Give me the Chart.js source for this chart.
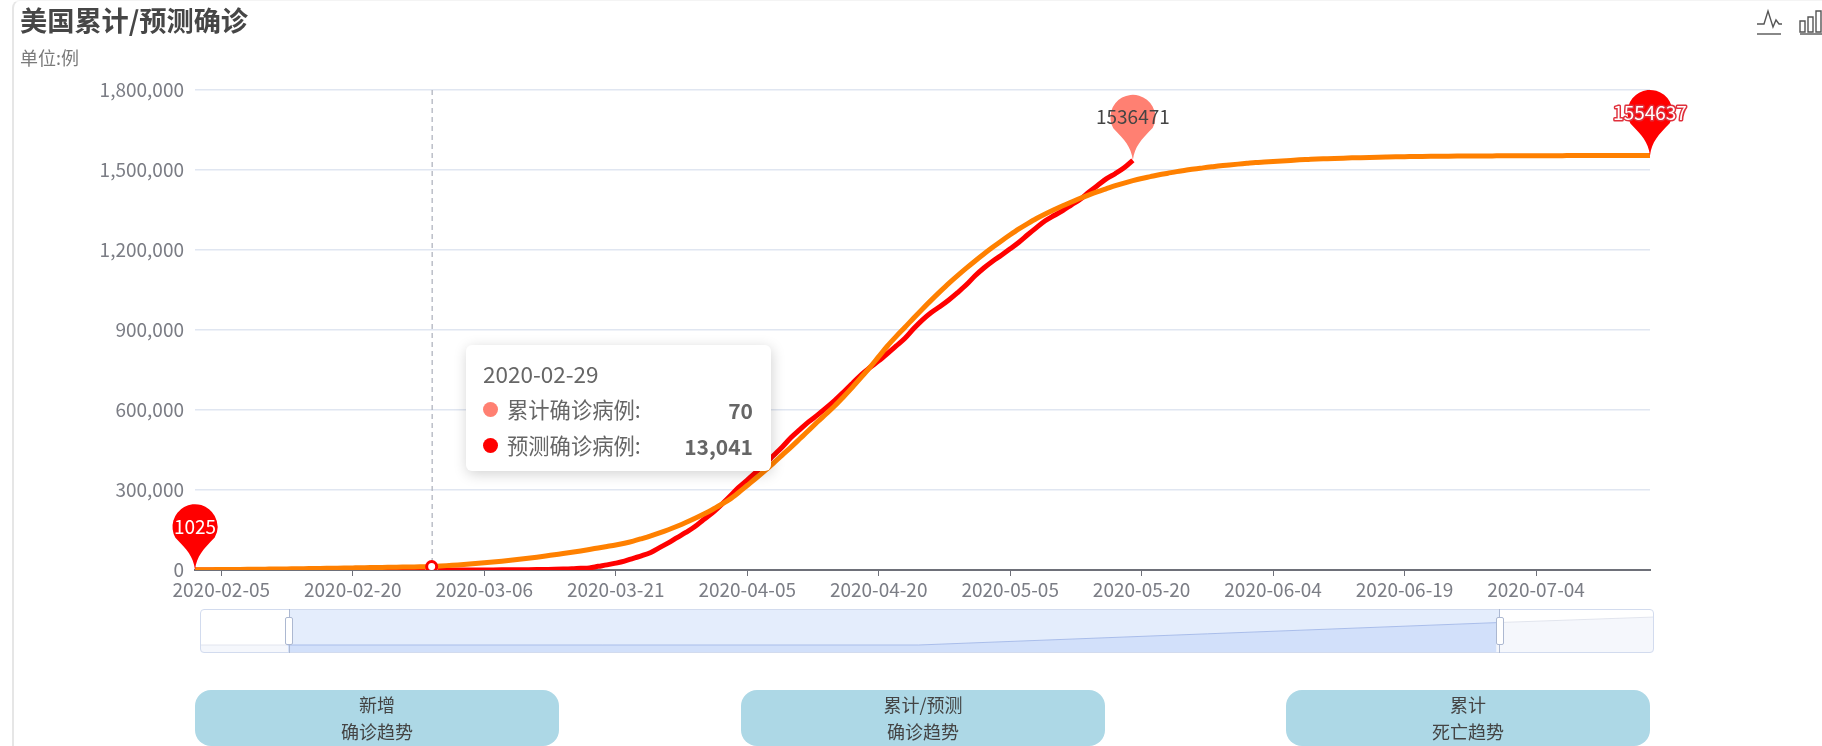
<!DOCTYPE html>
<html>
<head>
<meta charset="utf-8">
<title>美国累计/预测确诊</title>
<script src="https://cdn.jsdelivr.net/npm/chart.js@4"></script>
<style>
  html, body { margin: 0; padding: 0; background: #fff; overflow: hidden; }
  body { width: 1822px; height: 746px; position: relative; font-family: "Noto Sans CJK SC", "Noto Sans", sans-serif; }
  .abs { position: absolute; }
  #card { left: 12px; top: 0; width: 1810px; height: 760px; border-left: 2px solid #e6e6e6; border-top: 1px solid #f4f4f4; border-top-left-radius: 8px; box-sizing: border-box; }
  #main-wrap { left: 0; top: 0; width: 1822px; height: 746px; }
  #title { left: 20px; top: 0; font-size: 27.2px; line-height: 38px; font-weight: 700; color: #464646; }
  #subtitle { left: 20px; top: 44px; font-size: 18px; line-height: 26px; color: #7a7a7a; }
  #tip { left: 466px; top: 345px; width: 305px; height: 126px; background: #fff; border-radius: 6px; box-shadow: 1px 3px 14px rgba(0,0,0,.18); color: #666; font-size: 21.3px; }
  #tip div { position: absolute; white-space: nowrap; line-height: 28px; }
  #tip i { position: absolute; width: 15px; height: 15px; border-radius: 50%; }
  #tip b { position: absolute; right: 18px; line-height: 28px; font-size: 21px; }
  #slider-bg { left: 200px; top: 609px; width: 1454px; height: 44px; background: #fff; border-radius: 4px; }
  #slider-sel { left: 289px; top: 610px; width: 1211px; height: 42px; background: #e4edfc; }
  #slider-wrap { left: 200px; top: 609px; width: 1454px; height: 44px; border-radius: 4px; overflow: hidden; }
  #slider-border { left: 200px; top: 609px; width: 1454px; height: 44px; border: 1px solid #d2dbee; border-radius: 4px; box-sizing: border-box; }
  .handle-line { top: 609px; width: 1px; height: 44px; background: #acb8d1; }
  .handle { top: 617px; width: 8px; height: 28px; background: #fff; border: 1px solid #acb8d1; border-radius: 2px; box-sizing: border-box; }
  .btn { top: 690px; width: 364px; height: 56px; background: #add8e6; border-radius: 16px; text-align: center; font-size: 18px; line-height: 27px; color: #444; padding-top: 1px; box-sizing: border-box; }
</style>
</head>
<body>
<div id="card" class="abs"></div>
<div id="main-wrap" class="abs"><canvas id="chart" width="1822" height="746"></canvas></div>
<div id="title" class="abs">美国累计/预测确诊</div>
<div id="subtitle" class="abs">单位:例</div>

<svg class="abs" style="left:1755px;top:8px" width="67" height="28" fill="none" stroke="#555" stroke-width="1.4">
  <path d="M2 16 L9 16 L13 3 L18 19 L21 12 L24 16 L27 16"/><path d="M2 26 L26 26"/>
  <path d="M45 13 h5 v11 h-5 z M53 9 h5 v15 h-5 z M61 3 h5 v21 h-5 z"/><path d="M45 26 L67 26"/>
</svg>

<div id="slider-bg" class="abs"></div>
<div id="slider-sel" class="abs"></div>
<div id="slider-wrap" class="abs"><canvas id="slider" width="1454" height="44"></canvas></div>
<div id="slider-border" class="abs"></div>
<div class="abs handle-line" style="left:289px"></div>
<div class="abs handle-line" style="left:1499px"></div>
<div class="abs handle" style="left:285px"></div>
<div class="abs handle" style="left:1496px"></div>

<div class="abs btn" style="left:195px">新增<br>确诊趋势</div>
<div class="abs btn" style="left:741px">累计/预测<br>确诊趋势</div>
<div class="abs btn" style="left:1286px">累计<br>死亡趋势</div>

<div id="tip" class="abs"></div>

<script>
// Dates on the x axis
const dates = [
  '2020-02-02','2020-02-03','2020-02-04','2020-02-05','2020-02-06','2020-02-07','2020-02-08','2020-02-09','2020-02-10','2020-02-11','2020-02-12','2020-02-13','2020-02-14','2020-02-15',
  '2020-02-16','2020-02-17','2020-02-18','2020-02-19','2020-02-20','2020-02-21','2020-02-22','2020-02-23','2020-02-24','2020-02-25','2020-02-26','2020-02-27','2020-02-28','2020-02-29',
  '2020-03-01','2020-03-02','2020-03-03','2020-03-04','2020-03-05','2020-03-06','2020-03-07','2020-03-08','2020-03-09','2020-03-10','2020-03-11','2020-03-12','2020-03-13','2020-03-14','2020-03-15','2020-03-16',
  '2020-03-17','2020-03-18','2020-03-19','2020-03-20','2020-03-21','2020-03-22','2020-03-23','2020-03-24','2020-03-25','2020-03-26','2020-03-27','2020-03-28','2020-03-29','2020-03-30','2020-03-31',
  '2020-04-01','2020-04-02','2020-04-03','2020-04-04','2020-04-05','2020-04-06','2020-04-07','2020-04-08','2020-04-09','2020-04-10','2020-04-11','2020-04-12','2020-04-13','2020-04-14','2020-04-15',
  '2020-04-16','2020-04-17','2020-04-18','2020-04-19','2020-04-20','2020-04-21','2020-04-22','2020-04-23','2020-04-24','2020-04-25','2020-04-26','2020-04-27','2020-04-28','2020-04-29','2020-04-30',
  '2020-05-01','2020-05-02','2020-05-03','2020-05-04','2020-05-05','2020-05-06','2020-05-07','2020-05-08','2020-05-09','2020-05-10','2020-05-11','2020-05-12','2020-05-13','2020-05-14','2020-05-15','2020-05-16',
  '2020-05-17','2020-05-18','2020-05-19','2020-05-20','2020-05-21','2020-05-22','2020-05-23','2020-05-24','2020-05-25','2020-05-26','2020-05-27','2020-05-28','2020-05-29','2020-05-30','2020-05-31',
  '2020-06-01','2020-06-02','2020-06-03','2020-06-04','2020-06-05','2020-06-06','2020-06-07','2020-06-08','2020-06-09','2020-06-10','2020-06-11','2020-06-12','2020-06-13','2020-06-14','2020-06-15',
  '2020-06-16','2020-06-17','2020-06-18','2020-06-19','2020-06-20','2020-06-21','2020-06-22','2020-06-23','2020-06-24','2020-06-25','2020-06-26','2020-06-27','2020-06-28','2020-06-29','2020-06-30',
  '2020-07-01','2020-07-02','2020-07-03','2020-07-04','2020-07-05','2020-07-06','2020-07-07','2020-07-08','2020-07-09','2020-07-10','2020-07-11','2020-07-12','2020-07-13','2020-07-14','2020-07-15','2020-07-16','2020-07-17'
];

// 累计确诊病例, stops at 05-19
const actual = [
  8,8,11,11,11,11,11,11,12,12,13,13,13,13,13,13,13,13,13,15,15,15,51,51,57,58,60,70,
  74,98,118,149,217,262,402,518,583,959,1281,1663,2179,2727,3499,4632,6421,7783,13747,19273,25600,33276,43847,53740,65778,83836,101657,121465,140909,161831,188172,
  213372,243453,275586,308850,337072,366667,396223,429052,461437,496535,526396,555313,580619,607670,636350,667592,699706,732197,759086,784326,811865,840351,869170,905358,938154,965785,988197,1012582,1039909,1069424,
  1103461,1132539,1158040,1180375,1204351,1229331,1257023,1283929,1309550,1329260,1347881,1369376,1390406,1417774,1442824,1467820,1486757,1508308,1536471
];

// 预测确诊病例
const predicted = [
  1025,1200,1400,1620,1870,2140,2440,2770,3130,3520,3930,4370,4830,5310,5800,6300,6810,7330,7860,8400,8940,9490,10040,10580,11100,11620,12330,13041,
  15000,17000,19000,21300,24000,27000,30000,33200,36600,40200,44000,48100,52500,57200,61700,66500,71600,77000,82700,88300,94000,100500,108500,118000,128000,139000,151000,164000,178000,193000,209000,
  226000,245000,265000,290000,317000,344000,372000,401000,431000,461000,492000,523000,555000,585000,616000,650000,685000,722000,760000,800000,840000,876000,910000,945000,979000,1012000,1044000,1075000,1104000,1132000,
  1159000,1185000,1210000,1234000,1257000,1279000,1299000,1318000,1335000,1351000,1366000,1380000,1394000,1407000,1419000,1430000,1441000,1451000,1460000,1468000,1475000,1482000,1488000,1494000,1499000,1504000,1508000,1512000,1516000,1519000,1522000,
  1525000,1528000,1530000,1532000,1534000,1536000,1538000,1539500,1541000,1542200,1543400,1544500,1545500,1546400,1547200,1548000,1548700,1549300,1549900,1550400,1550800,1551200,1551500,1551800,1552100,1552300,1552500,1552700,1552900,1553100,
  1553300,1553400,1553500,1553600,1553700,1553800,1553900,1554000,1554100,1554200,1554300,1554350,1554400,1554450,1554500,1554570,1554637
];

// y axis ticks and the two sets of labels
const yTicks = [0, 300000, 600000, 900000, 1200000, 1500000, 1800000];
const hoverDate = '2020-02-29';
const sliderStops = [0, 10, 82, 148, 166];
const sliderValues = [0, 0, 0, 1243000, 1554637];

const hoverIndex = dates.indexOf(hoverDate);
const fontName = '"Noto Sans CJK SC", "Noto Sans", sans-serif';

// Custom marks that the chart has no built in option for
const hoverLine = {
  id: 'hoverLine',
  beforeDatasetsDraw(chart) {
    const { ctx, chartArea, scales } = chart;
    const x = scales.x.getPixelForValue(hoverIndex);
    ctx.save();
    ctx.strokeStyle = '#aaaeb9';
    ctx.lineWidth = 1.2;
    ctx.setLineDash([5, 4]);
    ctx.beginPath();
    ctx.moveTo(x + 0.5, chartArea.top);
    ctx.lineTo(x + 0.5, chartArea.bottom);
    ctx.stroke();
    ctx.restore();
  }
};

function drawPin(ctx, x, y, color, text, textColor, outline) {
  const r = 22.5;
  const cy = y - 43;
  ctx.save();
  ctx.fillStyle = color;
  ctx.beginPath();
  ctx.moveTo(x, y);
  ctx.bezierCurveTo(x - 2, y - 14, x - 8, y - 20, x - r * 0.86, cy + r * 0.5);
  ctx.arc(x, cy, r, Math.PI * 0.84, Math.PI * 0.16);
  ctx.bezierCurveTo(x + 8, y - 20, x + 2, y - 14, x, y);
  ctx.fill();
  ctx.font = '19px ' + fontName;
  ctx.textAlign = 'center';
  ctx.textBaseline = 'middle';
  if (outline) {
    ctx.strokeStyle = outline;
    ctx.lineWidth = 3;
    ctx.lineJoin = 'round';
    ctx.strokeText(text, x, cy);
  }
  ctx.fillStyle = textColor;
  ctx.fillText(text, x, cy);
  ctx.restore();
}

const pins = {
  id: 'pins',
  afterDatasetsDraw(chart) {
    const { ctx, scales } = chart;
    const lastA = actual.length - 1;
    const lastP = predicted.length - 1;
    drawPin(ctx, scales.x.getPixelForValue(0), scales.y.getPixelForValue(predicted[0]), '#ff0000', String(predicted[0]), '#fff');
    drawPin(ctx, scales.x.getPixelForValue(lastP), scales.y.getPixelForValue(predicted[lastP]), '#ff0000', String(predicted[lastP]), '#fff', '#e0303c');
    drawPin(ctx, scales.x.getPixelForValue(lastA), scales.y.getPixelForValue(actual[lastA]), '#ff8072', String(actual[lastA]), '#444');
  }
};

const chart = new Chart('chart', {
  type: 'line',
  data: {
    labels: dates,
    datasets: [
      {
        label: '累计确诊病例',
        data: actual,
        borderColor: '#ff0000',
        borderWidth: 5,
        tension: 0.4,
        cubicInterpolationMode: 'monotone',
        pointRadius: (c) => (c.dataIndex === hoverIndex ? 5 : 0),
        pointBackgroundColor: '#fff',
        pointBorderColor: '#ff8072',
        pointBorderWidth: 3,
        order: 2
      },
      {
        label: '预测确诊病例',
        data: predicted,
        borderColor: '#ff8000',
        borderWidth: 5,
        tension: 0.4,
        cubicInterpolationMode: 'monotone',
        pointRadius: (c) => (c.dataIndex === hoverIndex ? 5 : 0),
        pointBackgroundColor: '#fff',
        pointBorderColor: '#ff0000',
        pointBorderWidth: 3,
        order: 1
      }
    ]
  },
  options: {
    responsive: false,
    animation: false,
    events: [],
    layout: { padding: { top: 90, right: 172, left: 0, bottom: 0 } },
    plugins: { legend: { display: false }, tooltip: { enabled: false } },
    scales: {
      x: {
        afterFit: (scale) => { scale.height = 176; },
        border: { color: '#6e7079', width: 2 },
        grid: { drawOnChartArea: false, tickLength: 6, tickColor: '#6e7079' },
        ticks: {
          autoSkip: false,
          maxRotation: 0,
          color: '#7b7d85',
          padding: 2,
          font: { family: fontName, size: 19 },
          callback: (v, i) => ((i - 3) % 15 === 0 ? dates[i] : null)
        }
      },
      y: {
        min: yTicks[0],
        max: yTicks[yTicks.length - 1],
        afterFit: (scale) => { scale.width = 195; },
        afterBuildTicks: (scale) => { scale.ticks = yTicks.map((v) => ({ value: v })); },
        border: { display: false },
        grid: { color: '#e0e6f1', lineWidth: 1.5, drawTicks: false },
        ticks: {
          color: '#7b7d85',
          padding: 11,
          font: { family: fontName, size: 19 },
          callback: (v) => v.toLocaleString('en-US')
        }
      }
    }
  },
  plugins: [hoverLine, pins]
});

// Overview strip under the chart
new Chart('slider', {
  type: 'line',
  data: {
    datasets: [{
      data: sliderStops.map((s, i) => ({ x: s, y: sliderValues[i] })),
      borderWidth: 1,
      pointRadius: 0,
      fill: 'start',
      borderColor: '#e2e5ee',
      backgroundColor: '#f5f7fc',
      segment: {
        borderColor: (c) => (c.p0.parsed.x >= 10 && c.p1.parsed.x <= 148 ? '#a9bdea' : '#e2e5ee'),
        backgroundColor: (c) => (c.p0.parsed.x >= 10 && c.p1.parsed.x <= 148 ? '#d2e0fa' : '#f5f7fc')
      }
    }]
  },
  options: {
    responsive: false,
    animation: false,
    events: [],
    plugins: { legend: { display: false }, tooltip: { enabled: false } },
    scales: {
      x: { type: 'linear', display: false, min: 0, max: 166 },
      y: { display: false, min: -444000, max: 2000000 }
    }
  }
});

// Fixed tooltip for the hovered date
document.getElementById('tip').innerHTML =
  '<div style="left:17px;top:14px;font-size:22.5px">' + hoverDate + '</div>' +
  '<i style="left:17px;top:57px;background:#ff8072"></i>' +
  '<div style="left:41px;top:50px">累计确诊病例:</div>' +
  '<b style="top:51px">' + actual[hoverIndex].toLocaleString('en-US') + '</b>' +
  '<i style="left:17px;top:93px;background:#ff0000"></i>' +
  '<div style="left:41px;top:86px">预测确诊病例:</div>' +
  '<b style="top:87px">' + predicted[hoverIndex].toLocaleString('en-US') + '</b>';
</script>
</body>
</html>
